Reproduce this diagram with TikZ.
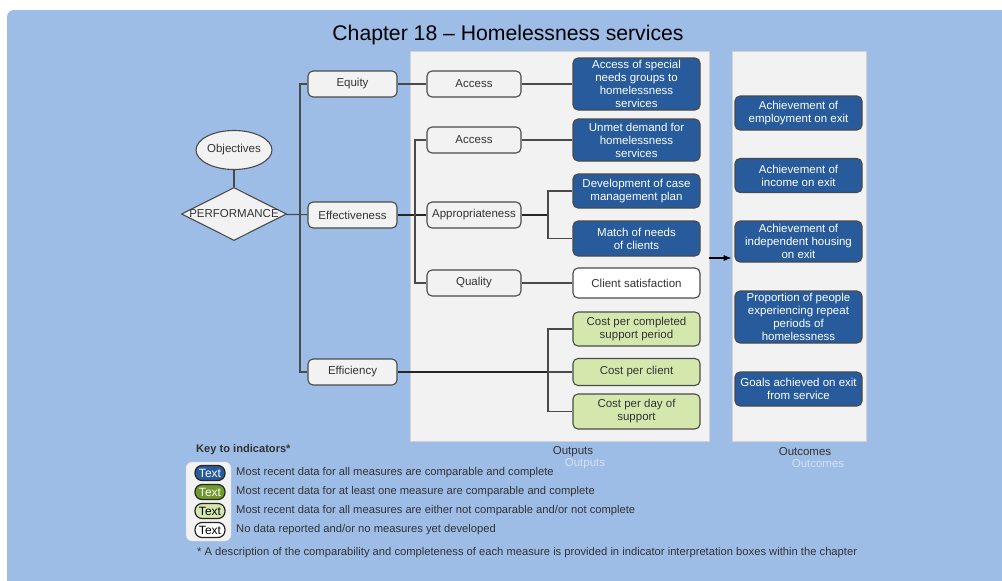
\documentclass[tikz,border=0pt]{standalone}
\usepackage{fontspec}
\setmainfont{Liberation Sans}
\usetikzlibrary{arrows.meta}
\usetikzlibrary{shapes.geometric}
\definecolor{bgblue}{HTML}{9DBDE7}
\definecolor{panelgray}{HTML}{F2F2F2}
\definecolor{nodegray}{HTML}{F2F2F2}
\definecolor{edgegray}{HTML}{4A4A4A}
\definecolor{txtgray}{HTML}{333333}
\definecolor{darkblue}{HTML}{275B9B}
\definecolor{lightgreen}{HTML}{D4E8AE}
\definecolor{darkgreen}{HTML}{6E9B2C}
\definecolor{ghost}{HTML}{D3E1F3}

\begin{document}
\begin{tikzpicture}[x=1pt, y=-1pt,
	every node/.style={font=\fontsize{11.5}{13}\selectfont, text=txtgray},
	greybox/.style={draw=edgegray, line width=1.1pt, fill=nodegray, rounded corners=5pt,
		inner sep=0pt, minimum height=26pt, align=center},
	outbox/.style={draw=edgegray, line width=1.1pt, rounded corners=5pt, inner sep=0pt,
		minimum width=127pt, minimum height=#1, align=center},
	bluebox/.style={outbox=#1, fill=darkblue, text=white},
	greenbox/.style={outbox=#1, fill=lightgreen},
	whitebox/.style={outbox=#1, fill=white},
	panel/.style={draw=gray!35, line width=0.6pt, fill=panelgray, inner sep=0pt,
		minimum width=#1, minimum height=390pt},
	conn/.style={draw=edgegray, line width=1.1pt},
	bold conn/.style={draw=black!85, line width=2pt},
	badge/.style={draw=black!85, line width=1.2pt, rounded corners=7pt, inner sep=0pt,
		minimum width=30pt, minimum height=15pt, font=\fontsize{12}{14}\selectfont},
	keytext/.style={anchor=west, inner sep=0pt, font=\fontsize{11.2}{13}\selectfont}]
	\useasboundingbox (0,0) rectangle (1002,581);
	\fill[white] (0,0) rectangle (1002,581);
	\fill[bgblue, rounded corners=7pt] (7,10) rectangle (1020,600);

	\node[font=\fontsize{21.2}{24}\selectfont, text=black] (title) at (508,35) {Chapter 18 -- Homelessness services};

	% Panels for outputs and outcomes
	\node[panel=299pt] (outputs) at (559.5,246) {};
	\node[panel=134pt] (outcomes) at (799,246) {};
	\node (outlbl) at (573,452) {Outputs};
	\node[text=ghost] (outghost) at (585,464) {Outputs};
	\node (oclbl) at (805,452) {Outcomes};
	\node[text=ghost] (ocghost) at (818,464) {Outcomes};

	% Objectives and performance
	\node[ellipse, draw=edgegray, line width=1.1pt, fill=nodegray, inner sep=0pt,
		minimum width=71pt, minimum height=39pt] (obj) at (234,150) {Objectives};
	\node[diamond, draw=edgegray, line width=1.1pt, fill=nodegray, inner sep=0pt,
		minimum width=105pt, minimum height=53pt] (perf) at (234,214) {};
	\node (perftxt) at (perf) {PERFORMANCE};

	% Domains
	\node[greybox, minimum width=89pt] (equity) at (352.5,84) {Equity};
	\node[greybox, minimum width=89pt] (eff) at (352.5,215) {Effectiveness};
	\node[greybox, minimum width=89pt] (effic) at (352.5,372) {Efficiency};

	% Sub-domains
	\node[greybox, minimum width=94pt] (acc1) at (474,84) {Access};
	\node[greybox, minimum width=94pt] (acc2) at (474,140) {Access};
	\node[greybox, minimum width=94pt] (approp) at (474,215) {Appropriateness};
	\node[greybox, minimum width=94pt] (quality) at (474,283) {Quality};

	% Output indicators
	\node[bluebox=52pt] (o1) at (636.5,84) {Access of special\\needs groups to\\homelessness\\services};
	\node[bluebox=42pt] (o2) at (636.5,140) {Unmet demand for\\homelessness\\services};
	\node[bluebox=34pt] (o3) at (636.5,191) {Development of case\\management plan};
	\node[bluebox=35pt] (o4) at (636.5,238.5) {Match of needs\\of clients};
	\node[whitebox=30pt] (o5) at (636.5,283) {Client satisfaction};
	\node[greenbox=34pt] (o6) at (636.5,329) {Cost per completed\\support period};
	\node[greenbox=27pt] (o7) at (636.5,372) {Cost per client};
	\node[greenbox=35pt] (o8) at (636.5,411.5) {Cost per day of\\support};

	% Outcome indicators
	\node[bluebox=34pt] (c1) at (798.5,113) {Achievement of\\employment on exit};
	\node[bluebox=34pt] (c2) at (798.5,175.5) {Achievement of\\income on exit};
	\node[bluebox=41pt] (c3) at (798.5,241.5) {Achievement of\\independent housing\\on exit};
	\node[bluebox=52pt] (c4) at (798.5,317) {Proportion of people\\experiencing repeat\\periods of\\homelessness};
	\node[bluebox=34pt] (c5) at (798.5,389) {Goals achieved on exit\\from service};

	% Connectors
	\coordinate (busA) at (300,215);
	\coordinate (busB) at (415,215);
	\coordinate (busC) at (548,215);
	\coordinate (busD) at (548,372);
	\draw[conn] (obj) -- (perf);
	\draw[conn] (perf) -- (eff);
	\draw[conn, line width=1.4pt] (equity.west) -| (busA) |- (effic.west);
	\draw[conn] (equity) -- (acc1);
	\draw[bold conn] (eff) -- (approp);
	\draw[conn] (acc2.west) -| (busB) |- (quality.west);
	\draw[conn] (acc1) -- (o1);
	\draw[conn] (acc2) -- (o2);
	\draw[bold conn] (approp) -- (busC);
	\draw[conn] (o3.west) -| (busC) |- (o4.west);
	\draw[conn] (quality) -- (o5);
	\draw[bold conn] (effic) -- (busD);
	\draw[conn] (o6.west) -| (busD) |- (o8.west);
	\draw[conn] (busD) -- (o7);
	\draw[line width=1.1pt, -{Latex[length=8pt,width=6pt]}] ([yshift=-12pt]outputs.east) -- ([yshift=-12pt]outcomes.west);

	% Key to indicators
	\node[anchor=west, inner sep=0pt, font=\bfseries\fontsize{11.1}{13}\selectfont] (keyhead) at (196,450) {Key to indicators*};
	\node[draw=gray!30, fill=nodegray, rounded corners=6pt, minimum width=45pt, minimum height=79pt] (keybox) at (208.5,501.5) {};
	\node[badge, fill=darkblue, text=white] (k1) at (210,473) {Text};
	\node[badge, fill=darkgreen, text=white] (k2) at (210,492) {Text};
	\node[badge, fill=lightgreen, text=black] (k3) at (210,511) {Text};
	\node[badge, fill=white, text=black] (k4) at (210,530) {Text};
	\node[keytext] (t1) at (236,473) {Most recent data for all measures are comparable and complete};
	\node[keytext] (t2) at (236,492) {Most recent data for at least one measure are comparable and complete};
	\node[keytext] (t3) at (236,511) {Most recent data for all measures are either not comparable and/or not complete};
	\node[keytext] (t4) at (236,530) {No data reported and/or no measures yet developed};
	\node[keytext] (foot) at (197,553) {* A description of the comparability and completeness of each measure is provided in indicator interpretation boxes within the chapter};
\end{tikzpicture}
\end{document}
